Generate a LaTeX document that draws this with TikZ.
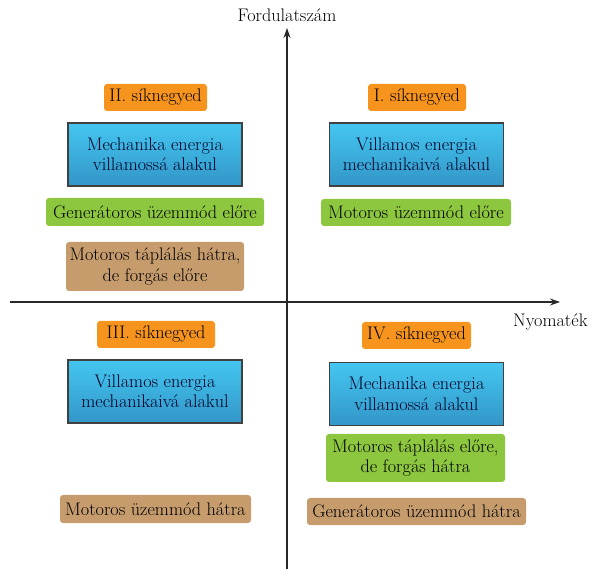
\documentclass[tikz,border=0pt]{standalone}
\usetikzlibrary{arrows.meta}
\definecolor{quadorange}{RGB}{247,148,30}
\definecolor{modegreen}{RGB}{141,198,63}
\definecolor{feedtan}{RGB}{198,156,109}
\definecolor{bluetop}{RGB}{68,198,240}
\definecolor{bluebot}{RGB}{50,150,200}
\definecolor{boxedge}{RGB}{64,64,64}
\definecolor{axisgray}{RGB}{40,40,40}
\tikzset{
  every node/.style={font=\fontsize{18.2}{20.5}\selectfont, align=center, inner sep=0pt},
  quadlabel/.style={fill=quadorange, rounded corners=3pt, minimum height=27pt},
  energybox/.style={draw=boxedge, line width=1.3pt, top color=bluetop, bottom color=bluebot,
                    minimum width=174pt, minimum height=63pt, text=black!85!blue},
  modebox/.style={fill=modegreen, rounded corners=3pt},
  feedbox/.style={fill=feedtan, rounded corners=3pt},
  axis/.style={draw=axisgray, line width=1.2pt, -{Stealth[length=10pt,width=7pt]}}
}
\begin{document}
\begin{tikzpicture}[x=1pt,y=-1pt]
\useasboundingbox (0,0) rectangle (595,569);

% axes
\coordinate (vbot) at (287,569);
\coordinate (vtop) at (287,28);
\coordinate (hleft) at (10,302);
\coordinate (hright) at (560,302);
\draw[axis] (vbot) -- (vtop);
\draw[axis] (hleft) -- (hright);
\node (ylab) at (287,15) {Fordulatszám};
\node[anchor=west] (xlab) at (513,322) {Nyomaték};

% quadrant II
\node[quadlabel, minimum width=103pt] (q2) at (155.5,97.5) {II. síknegyed};
\node[energybox] (e2) at (155,154.5) {Mechanika energia\\villamossá alakul};
\node[modebox, minimum width=218pt, minimum height=28pt] (m2) at (155,212) {Generátoros üzemmód előre};
\node[feedbox, minimum width=178pt, minimum height=49pt] (f2) at (155,266.5) {Motoros táplálás hátra,\\de forgás előre};

% quadrant I
\node[quadlabel, minimum width=98pt] (q1) at (417,97.5) {I. síknegyed};
\node[energybox] (e1) at (416.5,154.5) {Villamos energia\\mechanikaivá alakul};
\node[modebox, minimum width=190pt, minimum height=27pt] (m1) at (416,212.5) {Motoros üzemmód előre};

% quadrant III
\node[quadlabel, minimum width=118pt] (q3) at (156,334.5) {III. síknegyed};
\node[energybox] (e3) at (155,391.5) {Villamos energia\\mechanikaivá alakul};
\node[feedbox, minimum width=191pt, minimum height=28pt] (f3) at (155.5,509) {Motoros üzemmód hátra};

% quadrant IV
\node[quadlabel, minimum width=109pt] (q4) at (416.5,335.5) {IV. síknegyed};
\node[energybox] (e4) at (416.5,394) {Mechanika energia\\villamossá alakul};
\node[modebox, minimum width=179pt, minimum height=48pt] (m4) at (415.5,458) {Motoros táplálás előre,\\de forgás hátra};
\node[feedbox, minimum width=219pt, minimum height=27pt] (f4) at (416.5,511.5) {Generátoros üzemmód hátra};
\end{tikzpicture}
\end{document}
